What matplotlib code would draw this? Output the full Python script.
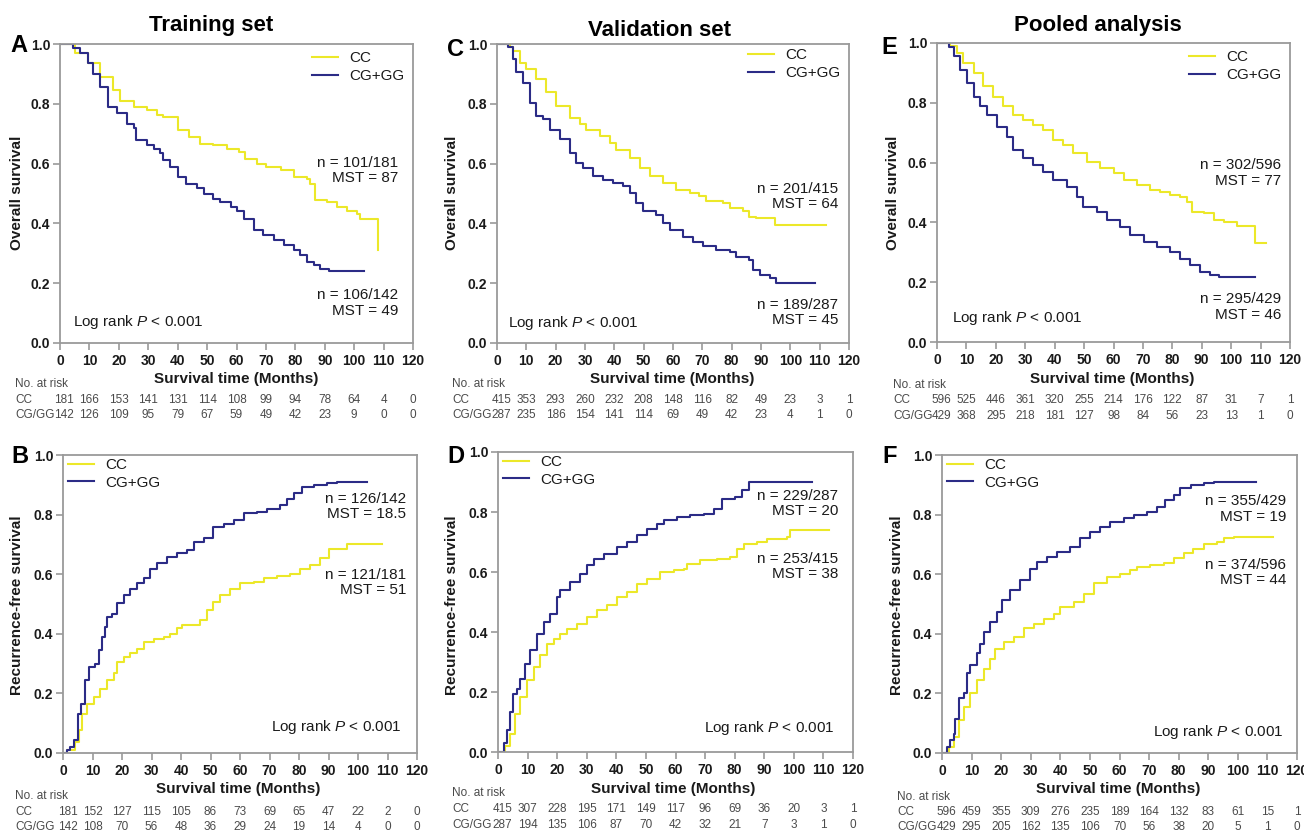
import matplotlib
matplotlib.use('Agg')
import matplotlib.pyplot as plt
from matplotlib.transforms import blended_transform_factory

plt.rcParams['font.family'] = ['Liberation Sans', 'DejaVu Sans']
plt.rcParams['mathtext.fontset'] = 'custom'
plt.rcParams['mathtext.it'] = 'Liberation Sans:italic'
plt.rcParams['mathtext.rm'] = 'Liberation Sans'

# ---------------- data ----------------
months = [0, 10, 20, 30, 40, 50, 60, 70, 80, 90, 100, 110, 120]
y_ticks = [0.0, 0.2, 0.4, 0.6, 0.8, 1.0]
groups = ['CC', 'CG+GG']
risk_labels = ['CC', 'CG/GG']

# A: Training set, overall survival
a_cc_t = [0, 5.1, 9.6, 13.6, 18, 20.4, 25, 29.5, 33, 35, 40, 44, 47.6, 52, 56.7, 61, 63, 67, 70, 75, 79.4, 84, 85, 86.8, 90.7, 94, 97.5, 101, 102, 108, 108]
a_cc_s = [1.0, 0.97, 0.935, 0.89, 0.846, 0.81, 0.79, 0.78, 0.762, 0.757, 0.712, 0.69, 0.667, 0.662, 0.65, 0.64, 0.617, 0.60, 0.59, 0.578, 0.556, 0.55, 0.533, 0.478, 0.472, 0.455, 0.44, 0.433, 0.416, 0.416, 0.31]
a_cg_t = [0, 4.5, 6.8, 9.6, 11.3, 13.6, 16.4, 19.3, 22.7, 25, 26, 29.5, 31.8, 34, 35, 37.4, 40, 43, 46.5, 49, 52, 54.4, 58, 60, 62.4, 65.8, 69, 72.6, 76, 79.4, 81.7, 84, 86.2, 88.5, 91.3, 103.2]
a_cg_s = [1.0, 0.985, 0.969, 0.935, 0.90, 0.857, 0.79, 0.768, 0.734, 0.718, 0.679, 0.662, 0.65, 0.634, 0.612, 0.589, 0.556, 0.533, 0.517, 0.50, 0.483, 0.472, 0.455, 0.44, 0.416, 0.377, 0.36, 0.344, 0.327, 0.31, 0.294, 0.271, 0.26, 0.249, 0.241, 0.241]
a_risk_cc = [181, 166, 153, 141, 131, 114, 108, 99, 94, 78, 64, 4, 0]
a_risk_cg = [142, 126, 109, 95, 79, 67, 59, 49, 42, 23, 9, 0, 0]
a_notes = ['n = 101/181\nMST = 87', 'n = 106/142\nMST = 49']

# C: Validation set, overall survival
c_cc_t = [0, 4.3, 5.5, 7.7, 10, 13.4, 16.8, 20.2, 24.8, 28.2, 30.5, 35, 38.4, 40.7, 45.2, 48.6, 52, 56.6, 61, 65.7, 69, 71.4, 77, 79.3, 83.9, 86, 88.4, 94.7, 112.3]
c_cc_s = [1.0, 0.99, 0.978, 0.938, 0.916, 0.882, 0.838, 0.793, 0.754, 0.731, 0.714, 0.692, 0.67, 0.647, 0.619, 0.586, 0.558, 0.535, 0.513, 0.502, 0.49, 0.474, 0.468, 0.451, 0.44, 0.423, 0.418, 0.395, 0.395]
c_cg_t = [0, 3.75, 5.5, 6.6, 8.9, 11.1, 13.4, 15.7, 18, 21.4, 24.8, 27, 29.3, 32.7, 36, 39.5, 43, 45.2, 47.5, 49.8, 54.3, 56.6, 58.9, 63.4, 66.8, 70.2, 74.8, 79.3, 81.6, 86, 87.3, 89.5, 93, 95.2, 108.3]
c_cg_s = [1.0, 0.99, 0.95, 0.905, 0.871, 0.804, 0.759, 0.748, 0.714, 0.681, 0.636, 0.602, 0.586, 0.558, 0.546, 0.535, 0.524, 0.502, 0.468, 0.44, 0.429, 0.40, 0.378, 0.356, 0.339, 0.323, 0.311, 0.306, 0.289, 0.278, 0.244, 0.227, 0.216, 0.20, 0.20]
c_risk_cc = [415, 353, 293, 260, 232, 208, 148, 116, 82, 49, 23, 3, 1]
c_risk_cg = [287, 235, 186, 154, 141, 114, 69, 49, 42, 23, 4, 1, 0]
c_notes = ['n = 201/415\nMST = 64', 'n = 189/287\nMST = 45']

# E: Pooled analysis, overall survival
e_cc_t = [0, 4.5, 6.8, 9, 12.5, 15.8, 19.2, 22.6, 26, 29.4, 32.8, 36.2, 39.6, 43, 46.4, 51, 55.5, 60, 63.4, 68, 72.5, 75.8, 79.2, 82.6, 85, 86.6, 90.6, 94, 97.4, 102, 108, 112]
e_cc_s = [1.0, 0.99, 0.966, 0.933, 0.90, 0.855, 0.821, 0.788, 0.76, 0.743, 0.726, 0.709, 0.676, 0.659, 0.631, 0.603, 0.581, 0.564, 0.542, 0.525, 0.508, 0.503, 0.492, 0.486, 0.469, 0.436, 0.43, 0.408, 0.40, 0.388, 0.33, 0.33]
e_cg_t = [0, 4, 5.7, 7.9, 10.2, 12.5, 14.7, 17, 20.4, 23.8, 26, 29.4, 32.8, 36.2, 39.6, 44.2, 47.5, 49.8, 54.3, 57.7, 62.3, 65.7, 70.2, 74.7, 79.2, 82.6, 86, 89.4, 92.8, 95.7, 108]
e_cg_s = [1.0, 0.985, 0.955, 0.911, 0.866, 0.821, 0.788, 0.76, 0.72, 0.687, 0.642, 0.615, 0.592, 0.57, 0.542, 0.52, 0.486, 0.453, 0.436, 0.408, 0.385, 0.358, 0.335, 0.318, 0.302, 0.279, 0.257, 0.235, 0.223, 0.218, 0.218]
e_risk_cc = [596, 525, 446, 361, 320, 255, 214, 176, 122, 87, 31, 7, 1]
e_risk_cg = [429, 368, 295, 218, 181, 127, 98, 84, 56, 23, 13, 1, 0]
e_notes = ['n = 302/596\nMST = 77', 'n = 295/429\nMST = 46']

# B: Training set, recurrence
b_cc_t = [0, 1.4, 4.2, 5.3, 6.4, 8.1, 10.4, 12.7, 14.9, 17.2, 18.3, 20.6, 22.8, 25.1, 27.3, 30.7, 34.1, 36.4, 38.6, 40.3, 45.4, 46.6, 48.8, 51, 53.3, 56.7, 60, 64.6, 68, 72.5, 77, 80.5, 83.8, 87.2, 90, 96.3, 108]
b_cc_s = [0, 0.01, 0.037, 0.076, 0.132, 0.166, 0.188, 0.216, 0.244, 0.267, 0.306, 0.323, 0.334, 0.35, 0.373, 0.384, 0.39, 0.40, 0.418, 0.429, 0.429, 0.446, 0.479, 0.507, 0.53, 0.552, 0.569, 0.574, 0.586, 0.594, 0.602, 0.619, 0.63, 0.653, 0.686, 0.703, 0.703]
b_cg_t = [0, 1.4, 2.5, 3.6, 5, 6.1, 7.6, 8.7, 11, 12.1, 13.2, 14.3, 14.9, 16.6, 18.3, 20.6, 22.8, 25.1, 27.3, 29.6, 31.9, 35.3, 38.6, 42, 44.3, 47.7, 51, 54.5, 57.9, 61.3, 65.8, 69, 73.7, 75.9, 78.2, 81, 85, 89.5, 93, 103]
b_cg_s = [0, 0.01, 0.02, 0.043, 0.13, 0.166, 0.244, 0.289, 0.30, 0.345, 0.39, 0.423, 0.457, 0.468, 0.502, 0.53, 0.552, 0.569, 0.586, 0.619, 0.636, 0.658, 0.67, 0.68, 0.708, 0.72, 0.759, 0.77, 0.782, 0.804, 0.81, 0.82, 0.832, 0.854, 0.871, 0.893, 0.899, 0.905, 0.91, 0.91]
b_risk_cc = [181, 152, 127, 115, 105, 86, 73, 69, 65, 47, 22, 2, 0]
b_risk_cg = [142, 108, 70, 56, 48, 36, 29, 24, 19, 14, 4, 0, 0]
b_notes = ['n = 126/142\nMST = 18.5', 'n = 121/181\nMST = 51']

# D: Validation set, recurrence
d_cc_t = [0, 2.5, 4.2, 5.9, 7.5, 9.8, 12, 14.3, 16.6, 18.8, 21, 23.3, 26.7, 30, 33.5, 36.8, 40.2, 43.6, 47, 50.4, 54.9, 59.4, 62.8, 64, 68.4, 74, 78.5, 80.8, 83, 87.5, 91, 97.7, 98.8, 111.8]
d_cc_s = [0, 0.02, 0.061, 0.128, 0.183, 0.239, 0.283, 0.322, 0.361, 0.378, 0.394, 0.41, 0.428, 0.45, 0.472, 0.489, 0.517, 0.533, 0.561, 0.578, 0.60, 0.606, 0.611, 0.628, 0.639, 0.644, 0.65, 0.678, 0.694, 0.70, 0.711, 0.717, 0.739, 0.739]
d_cg_t = [0, 1.9, 3, 4.2, 5.1, 6.4, 7.5, 9.2, 10.9, 13.2, 15.4, 17.7, 19.9, 21, 24.4, 27.8, 30, 32.3, 35.7, 40.2, 43.6, 47, 50.4, 53.7, 56, 60.5, 65, 69.5, 72.9, 75.7, 80.2, 82.5, 84.7, 106]
d_cg_s = [0, 0.03, 0.072, 0.133, 0.194, 0.211, 0.244, 0.294, 0.339, 0.394, 0.433, 0.461, 0.517, 0.539, 0.567, 0.594, 0.622, 0.644, 0.661, 0.683, 0.70, 0.722, 0.744, 0.761, 0.772, 0.783, 0.789, 0.794, 0.811, 0.844, 0.85, 0.872, 0.90, 0.90]
d_risk_cc = [415, 307, 228, 195, 171, 149, 117, 96, 69, 36, 20, 3, 1]
d_risk_cg = [287, 194, 135, 106, 87, 70, 42, 32, 21, 7, 3, 1, 0]
d_notes = ['n = 229/287\nMST = 20', 'n = 253/415\nMST = 38']

# F: Pooled analysis, recurrence
f_cc_t = [0, 2.3, 3.9, 5.6, 7.3, 9.6, 11.8, 14.1, 16.3, 18, 20.8, 24.2, 27.6, 31, 34.4, 37.7, 40, 44.5, 47.9, 51.3, 55.8, 60.3, 63.7, 65.9, 70.4, 74.9, 78.3, 81.7, 85, 88.5, 93, 95.2, 98.6, 112]
f_cc_s = [0, 0.02, 0.054, 0.11, 0.155, 0.20, 0.244, 0.283, 0.317, 0.35, 0.373, 0.39, 0.418, 0.434, 0.451, 0.468, 0.49, 0.507, 0.535, 0.569, 0.591, 0.602, 0.614, 0.625, 0.63, 0.636, 0.653, 0.67, 0.686, 0.703, 0.709, 0.72, 0.726, 0.726]
f_cg_t = [0, 1.7, 2.8, 3.9, 4.5, 5.6, 7.3, 8.5, 9.6, 11.8, 13, 14.1, 16.3, 18.6, 20.3, 23.1, 26.5, 29.9, 32.1, 35.5, 38.9, 43.4, 46.8, 50.1, 53.5, 56.9, 61.4, 64.8, 69.3, 72.7, 75.5, 78.3, 80.6, 84, 88.5, 91.8, 106]
f_cg_s = [0, 0.02, 0.043, 0.065, 0.115, 0.183, 0.20, 0.267, 0.295, 0.334, 0.367, 0.407, 0.44, 0.474, 0.513, 0.546, 0.58, 0.619, 0.642, 0.658, 0.675, 0.692, 0.72, 0.742, 0.759, 0.776, 0.787, 0.798, 0.81, 0.826, 0.849, 0.866, 0.888, 0.899, 0.905, 0.91, 0.91]
f_risk_cc = [596, 459, 355, 309, 276, 235, 189, 164, 132, 83, 61, 15, 1]
f_risk_cg = [429, 295, 205, 162, 135, 106, 70, 56, 38, 20, 5, 1, 0]
f_notes = ['n = 355/429\nMST = 19', 'n = 374/596\nMST = 44']

titles = ['Training set', 'Validation set', 'Pooled analysis']
letters = ['A', 'C', 'E', 'B', 'D', 'F']
ylabels = ['Overall survival', 'Recurrence-free survival']
xlabel = 'Survival time (Months)'
logrank = 'Log rank $P$ < 0.001'

# ---------------- layout (pixels) ----------------
W, H = 1304, 834
YELLOW = '#ECE829'
BLUE = '#2B2B86'
FRAME = '#9A9A9A'
TXT = '#1A1A1A'
GRAY = '#4A4A4A'

fig = plt.figure(figsize=(W / 100, H / 100), dpi=100)


def fx(x):
    return x / W


def fy(y):
    return 1 - y / H


panels = [
    dict(box=(60, 44, 413, 343), cc=(a_cc_t, a_cc_s), cg=(a_cg_t, a_cg_s), risk=(a_risk_cc, a_risk_cg),
         notes=a_notes, note_pos=[(114.9, 0.577), (114.9, 0.134)], lr=(4.4, 0.07, 'left'),
         leg='upper right', leg_anchor=(0.975, 0.975), letter=(19, 46), ylab=(17, 193),
         xlab=(236, 379), rows=(15, 384, 400, 415), top=True),
    dict(box=(497, 44, 849, 343), cc=(c_cc_t, c_cc_s), cg=(c_cg_t, c_cg_s), risk=(c_risk_cc, c_risk_cg),
         notes=c_notes, note_pos=[(116.3, 0.49), (116.3, 0.102)], lr=(3.75, 0.067, 'left'),
         leg='upper right', leg_anchor=(0.975, 0.985), letter=(455, 49), ylab=(452, 193),
         xlab=(672, 379), rows=(452, 384, 400, 415), top=True),
    dict(box=(937, 43, 1290, 342), cc=(e_cc_t, e_cc_s), cg=(e_cg_t, e_cg_s), risk=(e_risk_cc, e_risk_cg),
         notes=e_notes, note_pos=[(116.9, 0.565), (116.9, 0.118)], lr=(5.1, 0.08, 'left'),
         leg='upper right', leg_anchor=(0.975, 0.975), letter=(889, 47), ylab=(893, 193),
         xlab=(1112, 379), rows=(893, 385, 400, 416), top=True),
    dict(box=(63, 455, 417, 753), cc=(b_cc_t, b_cc_s), cg=(b_cg_t, b_cg_s), risk=(b_risk_cc, b_risk_cg),
         notes=b_notes, note_pos=[(116.3, 0.827), (116.3, 0.572)], lr=(114.9, 0.087, 'right'),
         leg='upper left', leg_anchor=(0.015, 0.99), letter=(20, 456), ylab=(17, 605),
         xlab=(238, 789), rows=(15, 796, 812, 827), top=False),
    dict(box=(498, 452, 853, 752), cc=(d_cc_t, d_cc_s), cg=(d_cg_t, d_cg_s), risk=(d_risk_cc, d_risk_cg),
         notes=d_notes, note_pos=[(114.9, 0.828), (114.9, 0.618)], lr=(113.6, 0.08, 'right'),
         leg='upper left', leg_anchor=(0.015, 0.99), letter=(456, 456), ylab=(452, 605),
         xlab=(673, 789), rows=(452, 793, 809, 825), top=False),
    dict(box=(942, 455, 1297, 753), cc=(f_cc_t, f_cc_s), cg=(f_cg_t, f_cg_s), risk=(f_risk_cc, f_risk_cg),
         notes=f_notes, note_pos=[(116.3, 0.819), (116.3, 0.606)], lr=(115.3, 0.07, 'right'),
         leg='upper left', leg_anchor=(0.015, 0.99), letter=(890, 456), ylab=(897, 605),
         xlab=(1118, 789), rows=(897, 797, 812, 827), top=False),
]

for i, p in enumerate(panels):
    x0, y0, x1, y1 = p['box']
    ax = fig.add_axes([fx(x0), fy(y1), (x1 - x0) / W, (y1 - y0) / H])
    ax.step(p['cc'][0], p['cc'][1], where='post', color=YELLOW, lw=1.5, label=groups[0])
    ax.step(p['cg'][0], p['cg'][1], where='post', color=BLUE, lw=1.5, label=groups[1])
    ax.set_xlim(months[0], months[-1])
    ax.set_ylim(0, 1.0)
    ax.set_xticks(months)
    ax.set_yticks(y_ticks)
    ax.set_yticklabels(['%.1f' % v for v in y_ticks])
    for s in ax.spines.values():
        s.set_color(FRAME)
        s.set_linewidth(1.3)
    ax.tick_params(axis='both', colors=FRAME, length=5, width=1.2, pad=2,
                   labelcolor=TXT, labelsize=10)
    for lab in ax.get_xticklabels() + ax.get_yticklabels():
        lab.set_fontweight('bold')
    ax.tick_params(axis='x', pad=3)

    leg = ax.legend(loc=p['leg'], bbox_to_anchor=p['leg_anchor'], frameon=False,
                    fontsize=11, handlelength=1.7, handletextpad=0.7,
                    labelspacing=0.25, borderpad=0, borderaxespad=0)
    for t in leg.get_texts():
        t.set_color(TXT)

    for note, (nx, ny) in zip(p['notes'], p['note_pos']):
        ax.text(nx, ny, note, ha='right', va='center', fontsize=11, color=TXT,
                multialignment='right', linespacing=1.15)
    lx, ly, lha = p['lr']
    ax.text(lx, ly, logrank, ha=lha, va='center', fontsize=11, color=TXT)

    # panel letter, axis labels
    fig.text(fx(p['letter'][0]), fy(p['letter'][1]), letters[i], ha='center', va='center',
             fontsize=17, fontweight='bold', color='black')
    fig.text(fx(p['ylab'][0]), fy(p['ylab'][1]), ylabels[0 if p['top'] else 1], rotation=90,
             ha='center', va='center', fontsize=11, fontweight='bold', color=TXT)
    fig.text(fx(p['xlab'][0]), fy(p['xlab'][1]), xlabel, ha='center', va='center',
             fontsize=11, fontweight='bold', color=TXT)

    # number at risk table
    rx, r0, r1, r2 = p['rows']
    fig.text(fx(rx), fy(r0), 'No. at risk', ha='left', va='center', fontsize=8.5, color=GRAY)
    fig.text(fx(rx), fy(r1), risk_labels[0], ha='left', va='center', fontsize=8.5, color=GRAY)
    fig.text(fx(rx), fy(r2), risk_labels[1], ha='left', va='center', fontsize=8.5, color=GRAY)
    tr = blended_transform_factory(ax.transData, fig.transFigure)
    for m, v1, v2 in zip(months, p['risk'][0], p['risk'][1]):
        dx = 1.5 if m == 0 else 0
        ax.text(m + dx, fy(r1), str(v1), transform=tr, ha='center', va='center',
                fontsize=8.5, color=GRAY, clip_on=False)
        ax.text(m + dx, fy(r2), str(v2), transform=tr, ha='center', va='center',
                fontsize=8.5, color=GRAY, clip_on=False)

# column titles
for (tx, ty), t in zip([(211, 25), (660, 31), (1098, 26)], titles):
    fig.text(fx(tx), fy(ty), t, ha='center', va='center', fontsize=16, fontweight='bold', color='black')

fig.savefig('out.png', dpi=100, facecolor='white')
